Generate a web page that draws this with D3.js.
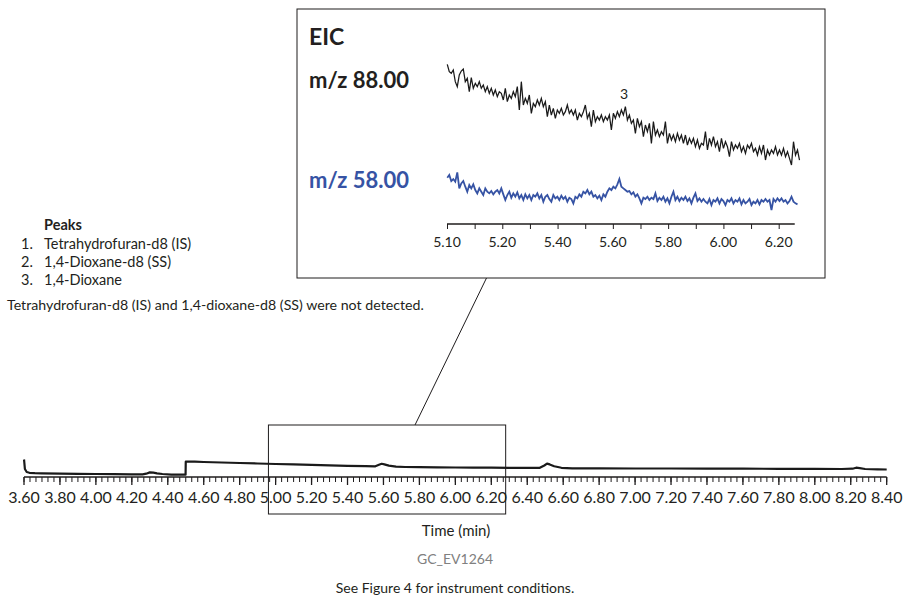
<!DOCTYPE html>
<html>
<head>
<meta charset="utf-8">
<script src="https://cdn.jsdelivr.net/npm/d3@7"></script>
<style>
    body { margin: 0; background: #fff; }
    svg text { font-family: Lato, "Open Sans", sans-serif; fill: #231f20; }
</style>
</head>
<body>
<svg id="chart"></svg>
<script>
// Main chromatogram (TIC), time in min, signal in arbitrary units
var mainTime = [3.600, 3.601, 3.605, 3.615, 3.63, 3.66, 3.70, 3.80, 3.90, 4.00, 4.10, 4.20, 4.26, 4.28, 4.30, 4.32, 4.34, 4.37, 4.42, 4.499,
    4.500, 4.55, 4.60, 4.70, 4.80, 4.90, 5.00, 5.10, 5.20, 5.30, 5.40, 5.50, 5.555, 5.575, 5.59, 5.605, 5.63, 5.67, 5.72, 5.80,
    5.90, 6.00, 6.10, 6.20, 6.30, 6.40, 6.47, 6.495, 6.51, 6.525, 6.55, 6.59, 6.65, 6.80, 7.00, 7.20, 7.40, 7.60, 7.80, 8.00,
    8.15, 8.21, 8.23, 8.25, 8.28, 8.35, 8.40];
var mainSignal = [17.5, 16, 8, 5, 4.2, 3.9, 3.7, 3.4, 3.2, 3.0, 2.9, 2.7, 2.7, 3.3, 4.6, 4.3, 3.6, 3.0, 2.4, 2.3,
    15.3, 15.3, 15.0, 14.5, 14.0, 13.5, 13.0, 12.6, 12.1, 11.6, 11.2, 10.8, 10.7, 12.2, 13.2, 12.6, 11.4, 10.4, 10.0, 9.8,
    9.6, 9.5, 9.4, 9.3, 9.2, 9.1, 9.2, 11.5, 13.4, 12.6, 10.8, 9.2, 8.7, 8.6, 8.5, 8.5, 8.4, 8.3, 8.2, 8.1,
    8.0, 8.3, 9.3, 8.8, 8.0, 7.6, 7.5];

// Main axis tick labels
var mainTicks = [3.6, 3.8, 4.0, 4.2, 4.4, 4.6, 4.8, 5.0, 5.2, 5.4, 5.6, 5.8, 6.0, 6.2, 6.4, 6.6, 6.8, 7.0, 7.2, 7.4, 7.6, 7.8, 8.0, 8.2, 8.4];

// EIC traces, one reading per scan
var eicStart = 5.001;
var eicScan = 0.00724;
var eic88 = [472, 450, 445, 455, 420, 405, 440, 452, 458, 420, 430, 390, 432, 400, 415, 405, 420, 400, 410, 390,
    405, 385, 400, 380, 395, 375, 390, 385, 365, 400, 360, 380, 370, 390, 375, 405, 335, 420, 350, 370,
    355, 380, 325, 355, 345, 365, 350, 370, 345, 360, 315, 350, 320, 340, 310, 335, 325, 340, 320, 330,
    350, 325, 335, 320, 335, 305, 325, 315, 330, 350, 310, 325, 285, 335, 300, 315, 305, 320, 300, 315,
    305, 320, 275, 325, 310, 330, 315, 335, 320, 345, 305, 320, 295, 305, 265, 310, 285, 300, 255, 290,
    270, 295, 235, 300, 260, 275, 255, 270, 260, 300, 235, 265, 245, 260, 240, 265, 245, 260, 235, 260,
    230, 250, 235, 250, 225, 245, 220, 235, 230, 270, 215, 250, 230, 255, 225, 240, 210, 250, 220, 240,
    225, 195, 240, 215, 230, 220, 235, 210, 225, 205, 230, 220, 235, 210, 220, 200, 225, 205, 230, 185,
    215, 200, 215, 205, 225, 200, 215, 200, 220, 195, 210, 190, 170, 240, 200, 215, 185];
var eic58 = [132, 140, 122, 128, 120, 148, 100, 115, 122, 105, 90, 110, 100, 112, 95, 85, 100, 90, 80, 100,
    90, 85, 92, 82, 90, 95, 85, 100, 82, 65, 80, 90, 72, 85, 75, 88, 70, 80, 65, 82,
    70, 80, 65, 80, 75, 85, 70, 80, 60, 75, 80, 68, 60, 80, 70, 75, 65, 78, 68, 75,
    60, 72, 68, 55, 75, 70, 82, 75, 90, 85, 95, 82, 90, 75, 80, 70, 78, 65, 82, 75,
    90, 100, 95, 105, 100, 112, 128, 105, 100, 95, 90, 92, 82, 88, 75, 82, 70, 55, 72, 68,
    75, 65, 72, 68, 85, 62, 72, 65, 75, 60, 70, 55, 75, 90, 65, 75, 62, 72, 65, 75,
    62, 70, 55, 72, 85, 62, 70, 60, 68, 60, 55, 68, 50, 65, 60, 70, 55, 68, 62, 50,
    65, 60, 70, 55, 65, 60, 70, 52, 65, 55, 60, 68, 50, 60, 55, 65, 52, 65, 60, 68,
    60, 65, 35, 68, 60, 70, 62, 70, 60, 65, 55, 62, 75, 60, 55, 52];

// Inset axis: tick positions and the labels printed under them
var eicTickValues = [5.0, 5.2, 5.4, 5.6, 5.8, 6.0, 6.2];
var eicTickLabels = ["5.10", "5.20", "5.40", "5.60", "5.80", "6.00", "6.20"];

// Zoomed window on main chromatogram
var zoomWindow = [4.96, 6.28];

var peakNames = ["Tetrahydrofuran-d8 (IS)", "1,4-Dioxane-d8 (SS)", "1,4-Dioxane"];

var width = 904;
var height = 601;
var ink = "#1f1c1d";
var blue = "#3653a4";

var svg = d3.select("#chart")
    .attr("width", width)
    .attr("height", height);

svg.append("rect").attr("width", width).attr("height", height).attr("fill", "#fff");

/********** Main chromatogram ************/
var axisY = 477;
var x = d3.scaleLinear().domain([3.6, 8.4]).range([24, 886.7]);
var y = d3.scaleLinear().domain([0, 20]).range([axisY, axisY - 20]);

var mainData = mainTime.map(function(t, i) { return [t, mainSignal[i]]; });

var mainLine = d3.line()
    .x(function(d) { return x(d[0]); })
    .y(function(d) { return y(d[1]); });

svg.append("path")
    .datum(mainData)
    .attr("fill", "none")
    .attr("stroke", "#1a1a1a")
    .attr("stroke-width", 2.2)
    .attr("stroke-linejoin", "round")
    .attr("d", mainLine);

// Axis: line, minor ticks, major ticks
var mainAxis = svg.append("g").attr("class", "main-axis");

mainAxis.append("line")
    .attr("x1", x(3.6)).attr("x2", x(8.4))
    .attr("y1", axisY).attr("y2", axisY)
    .attr("stroke", ink).attr("stroke-width", 1.5);

var minorTicks = d3.range(0, 145).map(function(i) { return 3.6 + i * 0.2 / 6; });
mainAxis.selectAll(".minor")
    .data(minorTicks)
    .enter().append("line")
    .attr("class", "minor")
    .attr("x1", function(d) { return x(d); })
    .attr("x2", function(d) { return x(d); })
    .attr("y1", axisY)
    .attr("y2", axisY + 5)
    .attr("stroke", ink).attr("stroke-width", 1);

mainAxis.selectAll(".major")
    .data(mainTicks)
    .enter().append("line")
    .attr("class", "major")
    .attr("x1", function(d) { return x(d); })
    .attr("x2", function(d) { return x(d); })
    .attr("y1", axisY)
    .attr("y2", axisY + 8)
    .attr("stroke", ink).attr("stroke-width", 1.3);

mainAxis.selectAll("text")
    .data(mainTicks)
    .enter().append("text")
    .attr("x", function(d) { return x(d); })
    .attr("y", 503)
    .attr("text-anchor", "middle")
    .style("font-size", "16px")
    .text(function(d) { return d.toFixed(2); });

svg.append("text")
    .attr("x", 456).attr("y", 536)
    .attr("text-anchor", "middle")
    .style("font-size", "15px")
    .text("Time (min)");

svg.append("text")
    .attr("x", 455).attr("y", 564)
    .attr("text-anchor", "middle")
    .style("font-size", "14px")
    .style("fill", "#808080")
    .text("GC_EV1264");

svg.append("text")
    .attr("x", 455).attr("y", 593)
    .attr("text-anchor", "middle")
    .style("font-size", "14px")
    .text("See Figure 4 for instrument conditions.");

// Zoom box and connector
svg.append("rect")
    .attr("x", x(zoomWindow[0])).attr("y", 425)
    .attr("width", x(zoomWindow[1]) - x(zoomWindow[0]))
    .attr("height", 89)
    .attr("fill", "none").attr("stroke", ink).attr("stroke-width", 1);

svg.append("line")
    .attr("x1", 415).attr("y1", 425)
    .attr("x2", 486.5).attr("y2", 278)
    .attr("stroke", ink).attr("stroke-width", 1);

/********** Peak legend ************/
var legend = svg.append("g").attr("class", "legend");

legend.append("text")
    .attr("x", 44).attr("y", 230)
    .style("font-size", "14.5px")
    .style("font-weight", "bold")
    .text("Peaks");

var items = legend.selectAll(".item")
    .data(peakNames)
    .enter().append("g")
    .attr("class", "item")
    .attr("transform", function(d, i) { return "translate(0," + (249 + i * 18) + ")"; });

items.append("text")
    .attr("x", 21)
    .style("font-size", "14.5px")
    .text(function(d, i) { return (i + 1) + "."; });

items.append("text")
    .attr("x", 44)
    .style("font-size", "14.5px")
    .text(function(d) { return d; });

legend.append("text")
    .attr("x", 7).attr("y", 310)
    .style("font-size", "14.2px")
    .text("Tetrahydrofuran-d8 (IS) and 1,4-dioxane-d8 (SS) were not detected.");

/********** EIC inset ************/
var inset = svg.append("g").attr("class", "inset");

inset.append("rect")
    .attr("x", 297).attr("y", 9)
    .attr("width", 528).attr("height", 269)
    .attr("fill", "#fff").attr("stroke", ink).attr("stroke-width", 1);

var ex = d3.scaleLinear().domain([5.0, 6.2]).range([447, 778.7]);
var ey = d3.scaleLinear().domain([0, 500]).range([221.7, 55]);
var eicAxisY = 224;

var eicLine = d3.line()
    .x(function(d, i) { return ex(eicStart + i * eicScan); })
    .y(function(d) { return ey(d); });

inset.append("path")
    .datum(eic88)
    .attr("fill", "none")
    .attr("stroke", "#1a1a1a")
    .attr("stroke-width", 1.25)
    .attr("d", eicLine);

inset.append("path")
    .datum(eic58)
    .attr("fill", "none")
    .attr("stroke", blue)
    .attr("stroke-width", 1.8)
    .attr("d", eicLine);

inset.append("text")
    .attr("x", 624).attr("y", 99)
    .attr("text-anchor", "middle")
    .style("font-size", "14px")
    .text("3");

var eicAxis = d3.axisBottom(ex)
    .tickValues(d3.range(0, 13).map(function(i) { return 5.0 + i * 0.1; }))
    .tickSize(5)
    .tickFormat("");

var eicAxisG = inset.append("g")
    .attr("transform", "translate(0," + eicAxisY + ")")
    .call(eicAxis);

eicAxisG.select(".domain")
    .attr("d", "M" + ex(5.0) + ",0H" + ex(6.258))
    .attr("stroke", ink).attr("stroke-width", 1.3);
eicAxisG.selectAll(".tick line").attr("stroke", ink);

inset.selectAll(".eic-label")
    .data(eicTickValues)
    .enter().append("text")
    .attr("class", "eic-label")
    .attr("x", function(d) { return ex(d); })
    .attr("y", 247)
    .attr("text-anchor", "middle")
    .style("font-size", "14px")
    .text(function(d, i) { return eicTickLabels[i]; });

inset.append("text")
    .attr("x", 309).attr("y", 45)
    .style("font-size", "23px")
    .style("font-weight", "bold")
    .text("EIC");

inset.append("text")
    .attr("x", 309).attr("y", 88)
    .style("font-size", "22px")
    .style("font-weight", "bold")
    .text("m/z 88.00");

inset.append("text")
    .attr("x", 309).attr("y", 188)
    .style("font-size", "22px")
    .style("font-weight", "bold")
    .style("fill", blue)
    .text("m/z 58.00");
</script>
</body>
</html>
